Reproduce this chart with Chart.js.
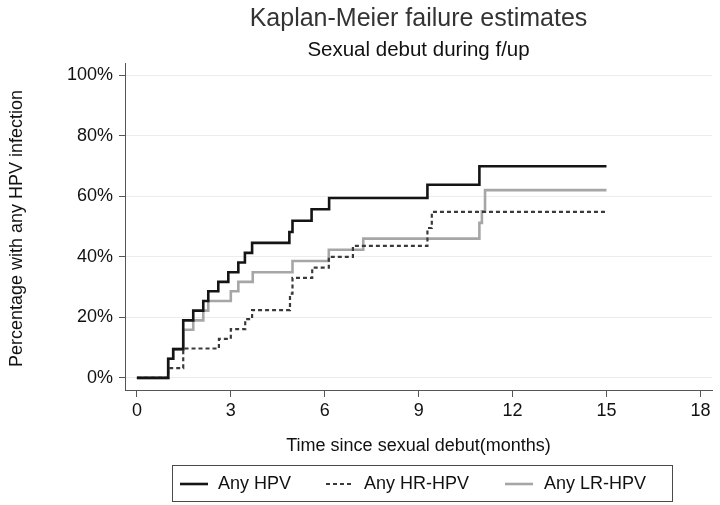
<!DOCTYPE html>
<html>
<head>
<meta charset="utf-8">
<script src="https://cdn.jsdelivr.net/npm/chart.js@4.4.1/dist/chart.umd.min.js"></script>
<style>
  html, body { margin: 0; padding: 0; background: #ffffff; }
  #wrap { width: 720px; height: 505px; }
</style>
</head>
<body>
<div id="wrap"><canvas id="c" width="720" height="505"></canvas></div>
<script>
// ---- Data (months since sexual debut, cumulative % failure) ----
const titleText = "Kaplan-Meier failure estimates";
const subtitleText = "Sexual debut during f/up";
const xAxisTitle = "Time since sexual debut(months)";
const yAxisTitle = "Percentage with any HPV infection";

const xTicks = [0, 3, 6, 9, 12, 15, 18];
const yTicks = [0, 20, 40, 60, 80, 100];

const seriesNames = ["Any HPV", "Any HR-HPV", "Any LR-HPV"];

const anyHpvTimes  = [0, 1.0, 1.16, 1.48, 1.80, 2.12, 2.28, 2.60, 2.92, 3.24, 3.45, 3.68, 4.87, 4.97, 5.58, 6.14, 9.28, 10.94, 15.0];
const anyHpvValues = [0, 6.3, 9.5, 19.0, 22.2, 25.4, 28.6, 31.7, 34.9, 38.1, 41.3, 44.6, 48.2, 51.9, 55.7, 59.4, 63.8, 69.9, 69.9];

const hrHpvTimes  = [0, 1.0, 1.48, 2.62, 3.0, 3.46, 3.68, 4.89, 4.97, 5.60, 6.13, 6.90, 9.28, 9.42, 15.0];
const hrHpvValues = [0, 3.2, 9.7, 12.9, 16.1, 19.4, 22.4, 27.8, 33.0, 36.4, 40.0, 43.6, 49.5, 54.8, 54.8];

const lrHpvTimes  = [0, 1.0, 1.16, 1.48, 1.80, 2.12, 2.28, 3.0, 3.24, 3.70, 4.97, 6.13, 7.23, 10.94, 11.02, 11.12, 15.0];
const lrHpvValues = [0, 6.3, 9.5, 15.9, 19.0, 22.2, 25.4, 28.6, 31.7, 34.9, 38.6, 42.3, 46.0, 51.2, 55.0, 62.0, 62.0];

function toPoints(ts, vs) { return ts.map((t, i) => ({ x: t, y: vs[i] })); }

const FONT = "'Liberation Sans', Arial, Helvetica, sans-serif";

const textPlugin = {
  id: 'textPlugin',
  afterDraw(chart) {
    const ctx = chart.ctx;
    const area = chart.chartArea;
    const cx = (area.left + area.right) / 2;
    ctx.save();
    ctx.textAlign = 'center';
    ctx.textBaseline = 'middle';
    // main title
    ctx.fillStyle = '#333333';
    ctx.font = '25px ' + FONT;
    ctx.fillText(titleText, cx, 19);
    ctx.fillStyle = '#111111';
    ctx.font = '20.5px ' + FONT;
    ctx.fillText(subtitleText, cx, 50);
    // axis titles
    ctx.font = '18px ' + FONT;
    ctx.fillText(xAxisTitle, cx, 446);
    ctx.save();
    ctx.translate(17, (area.top + area.bottom) / 2 + 2);
    ctx.rotate(-Math.PI / 2);
    ctx.fillText(yAxisTitle, 0, 0);
    ctx.restore();

    // legend box
    const lx0 = 172, lx1 = 672, ly0 = 465, ly1 = 501;
    ctx.strokeStyle = '#4a4a4a';
    ctx.lineWidth = 1;
    ctx.strokeRect(lx0 + 0.5, ly0 + 0.5, lx1 - lx0, ly1 - ly0);
    const ly = (ly0 + ly1) / 2 + 1;
    const lineX = [180, 326, 505];
    const textX = [218, 364, 544];
    ctx.textAlign = 'left';
    ctx.font = '18px ' + FONT;
    chart.data.datasets.forEach((ds, i) => {
      ctx.save();
      ctx.strokeStyle = ds.borderColor;
      ctx.lineWidth = ds.borderWidth;
      ctx.setLineDash(ds.borderDash || []);
      ctx.beginPath();
      ctx.moveTo(lineX[i], ly);
      ctx.lineTo(lineX[i] + 28, ly);
      ctx.stroke();
      ctx.restore();
      ctx.fillStyle = '#111111';
      ctx.fillText(ds.label, textX[i], ly);
    });
    ctx.restore();
  }
};

new Chart(document.getElementById('c'), {
  type: 'line',
  data: {
    datasets: [
      {
        label: seriesNames[0],
        data: toPoints(anyHpvTimes, anyHpvValues),
        borderColor: '#141414',
        borderWidth: 2.6,
        stepped: 'before',
        pointRadius: 0,
        fill: false,
        order: 1
      },
      {
        label: seriesNames[1],
        data: toPoints(hrHpvTimes, hrHpvValues),
        borderColor: '#3a3a3a',
        borderWidth: 2.2,
        borderDash: [4, 3],
        stepped: 'before',
        pointRadius: 0,
        fill: false,
        order: 2
      },
      {
        label: seriesNames[2],
        data: toPoints(lrHpvTimes, lrHpvValues),
        borderColor: '#a6a6a6',
        borderWidth: 2.6,
        stepped: 'before',
        pointRadius: 0,
        fill: false,
        order: 3
      }
    ]
  },
  options: {
    responsive: false,
    animation: false,
    devicePixelRatio: 1,
    layout: { padding: { top: 63, right: 8, left: 0, bottom: 0 } },
    plugins: {
      legend: { display: false },
      title: { display: false },
      tooltip: { enabled: false }
    },
    scales: {
      x: {
        type: 'linear',
        min: -0.38,
        max: 18.37,
        afterBuildTicks: (s) => { s.ticks = xTicks.map(v => ({ value: v })); },
        afterFit: (s) => { s.height = 115; },
        grid: {
          drawOnChartArea: false,
          drawTicks: true,
          tickLength: 7,
          tickColor: '#555555',
          tickWidth: 1
        },
        border: { color: '#555555', width: 1 },
        ticks: {
          autoSkip: false,
          maxRotation: 0,
          padding: 3,
          color: '#111111',
          font: { family: FONT, size: 18 },
          callback: (v) => String(v)
        }
      },
      y: {
        type: 'linear',
        min: -4,
        max: 104,
        afterBuildTicks: (s) => { s.ticks = yTicks.map(v => ({ value: v })); },
        afterFit: (s) => { s.width = 125; },
        grid: {
          color: '#ececec',
          lineWidth: 1,
          drawTicks: true,
          tickLength: 6,
          tickColor: '#555555',
          tickWidth: 1
        },
        border: { color: '#555555', width: 1 },
        ticks: {
          padding: 6,
          color: '#111111',
          font: { family: FONT, size: 18 },
          callback: (v) => v + '%'
        }
      }
    }
  },
  plugins: [textPlugin]
});
</script>
</body>
</html>
